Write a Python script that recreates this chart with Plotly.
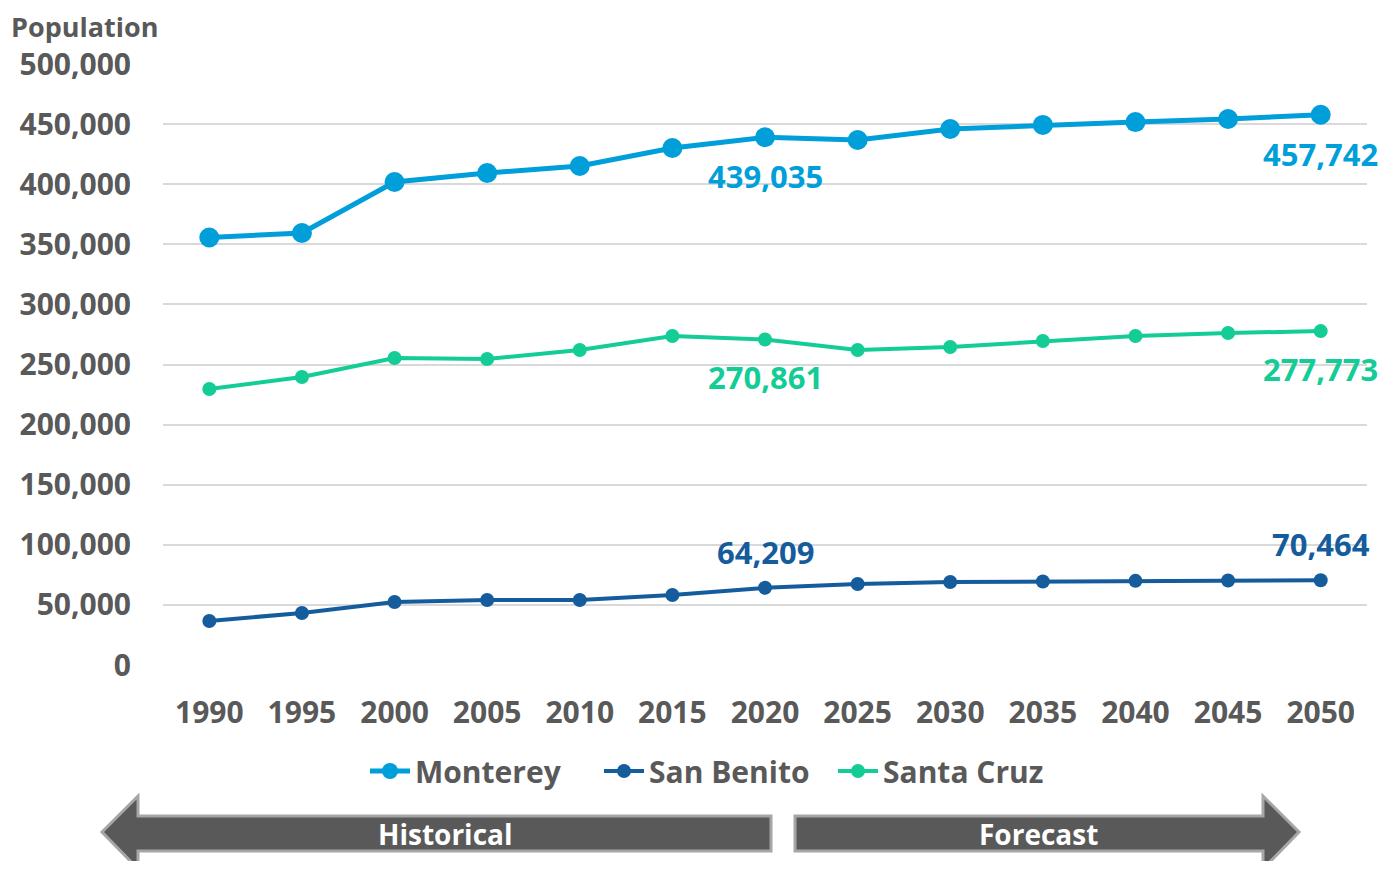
import plotly.graph_objects as go

years = [1990, 1995, 2000, 2005, 2010, 2015, 2020, 2025, 2030, 2035, 2040, 2045, 2050]
monterey = [355700, 359400, 401800, 409300, 415100, 430100, 439035, 436800, 445900, 449300, 451700, 454200, 457742]
san_benito = [36600, 43300, 52400, 54100, 54100, 58200, 64209, 67400, 69000, 69500, 70000, 70300, 70464]
santa_cruz = [229600, 239600, 255400, 254600, 262100, 273700, 270861, 262100, 264600, 269500, 273700, 276200, 277773]
y_ticks = [0, 50000, 100000, 150000, 200000, 250000, 300000, 350000, 400000, 450000, 500000]
label_years = [2020, 2050]

FONT = "Open Sans"
GREY = "#595959"
OFF = 8  # page body margin in the browser
W, H = 1386 - OFF * 2, 869 - OFF * 2
# plot area in page pixels
L, R, T, B = 163, 1367, 64, 665

c_mont = "#009FDA"
c_sb = "#155C9C"
c_sc = "#14CC95"

fig = go.Figure()
fig.add_trace(go.Scatter(x=years, y=monterey, name="Monterey", mode="lines+markers",
                         line=dict(color=c_mont, width=5), marker=dict(size=20, color=c_mont)))
fig.add_trace(go.Scatter(x=years, y=san_benito, name="San Benito", mode="lines+markers",
                         line=dict(color=c_sb, width=4), marker=dict(size=14, color=c_sb)))
fig.add_trace(go.Scatter(x=years, y=santa_cruz, name="Santa Cruz", mode="lines+markers",
                         line=dict(color=c_sc, width=4), marker=dict(size=14, color=c_sc)))

# value labels at 2020 and 2050
for series, col, shift in [(monterey, c_mont, -39), (santa_cruz, c_sc, -38), (san_benito, c_sb, 36)]:
    for yr in label_years:
        v = series[years.index(yr)]
        fig.add_annotation(x=yr, y=v, text=f"<b>{v:,}</b>", showarrow=False, yshift=shift,
                           font=dict(family=FONT, size=31, color=col))


def px(x, y):
    return (x - L) / (R - L), (B - y) / (B - T)


def path(points):
    pts = [px(x, y) for x, y in points]
    return "M " + " L ".join(f"{a},{b}" for a, b in pts) + " Z"


hist = [(102, 832), (138, 796), (138, 816), (771, 816), (771, 851), (138, 851), (138, 869)]
fore = [(795, 816), (1263, 816), (1263, 796), (1299, 832), (1263, 869), (1263, 851), (795, 851)]
for p in (hist, fore):
    fig.add_shape(type="path", xref="paper", yref="paper", path=path(p), layer="below",
                  fillcolor=GREY, line=dict(color="#A6A6A6", width=3))

for text, x in [("Historical", 445), ("Forecast", 1038)]:
    ax, ay = px(x, 834)
    fig.add_annotation(xref="paper", yref="paper", x=ax, y=ay, xanchor="center", yanchor="middle",
                       text=f"<b>{text}</b>", showarrow=False,
                       font=dict(family=FONT, size=28, color="white"))

tx, ty = px(10, 26.5)
fig.add_annotation(xref="paper", yref="paper", x=tx, y=ty, xanchor="left", yanchor="middle",
                   text="<b>Population</b>", showarrow=False, borderpad=0,
                   font=dict(family=FONT, size=27, color=GREY))

lx, ly = px(716, 771)
fig.update_layout(
    width=W, height=H,
    margin=dict(l=L - OFF, r=W - (R - OFF), t=T - OFF, b=H - (B - OFF)),
    plot_bgcolor="white", paper_bgcolor="white",
    font=dict(family=FONT, color=GREY, size=30),
    showlegend=True,
    legend=dict(orientation="h", x=lx, y=ly, xanchor="center", yanchor="middle",
                font=dict(family=FONT, size=30, color=GREY, weight="bold"),
                itemwidth=40, tracegroupgap=0, entrywidth=179),
    xaxis=dict(range=[1987.5, 2052.5], tickvals=years, ticktext=[str(y) for y in years],
               showgrid=False, zeroline=False, showline=False,
               tickfont=dict(family=FONT, size=30, color=GREY, weight="bold"),
               ticks="", ticklabelstandoff=27),
    yaxis=dict(range=[0, 500000], tickvals=y_ticks, ticktext=[f"{v:,}" for v in y_ticks],
               showgrid=True, gridcolor="#D9D9D9", gridwidth=1.5, zeroline=False,
               showline=False, ticks="",
               tickfont=dict(family=FONT, size=30, color=GREY, weight="bold"),
               ticklabelstandoff=31),
)

fig.write_html("out.html")
